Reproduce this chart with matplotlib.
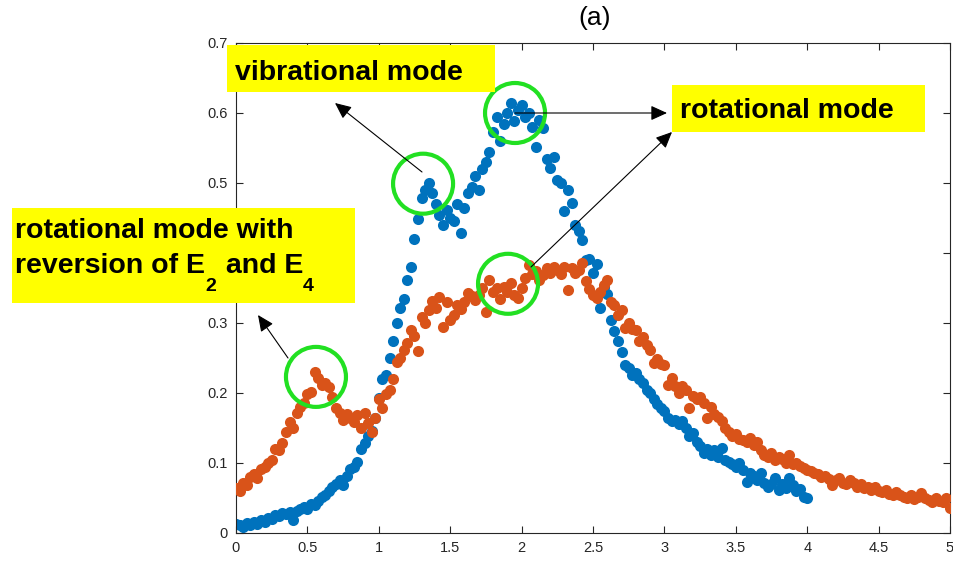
import numpy as np
import matplotlib.pyplot as plt
from matplotlib.patches import Ellipse, Rectangle, FancyArrowPatch

plt.rcParams['font.family'] = 'Liberation Sans'

# echantillonnage en x (pas constant)
step = 0.025

# serie bleue : 0 -> 4
blue_y = [
    0.013, 0.012, 0.009, 0.014, 0.012, 0.016, 0.013, 0.018, 0.016, 0.022,
    0.020, 0.026, 0.024, 0.029, 0.027, 0.030, 0.018, 0.031, 0.035, 0.037,
    0.034, 0.042, 0.040, 0.046, 0.052, 0.055, 0.060, 0.066, 0.070, 0.076,
    0.068, 0.082, 0.092, 0.095, 0.101, 0.120, 0.128, 0.138, 0.146, 0.165,
    0.193, 0.220, 0.226, 0.250, 0.275, 0.300, 0.322, 0.334, 0.362, 0.380,
    0.420, 0.448, 0.478, 0.490, 0.500, 0.486, 0.470, 0.455, 0.440, 0.462,
    0.450, 0.446, 0.470, 0.428, 0.465, 0.486, 0.495, 0.510, 0.490, 0.520,
    0.530, 0.545, 0.573, 0.595, 0.560, 0.585, 0.600, 0.614, 0.588, 0.605,
    0.612, 0.595, 0.600, 0.580, 0.552, 0.590, 0.578, 0.535, 0.522, 0.537,
    0.505, 0.500, 0.460, 0.490, 0.472, 0.440, 0.432, 0.418, 0.390, 0.392,
    0.372, 0.385, 0.322, 0.352, 0.342, 0.304, 0.288, 0.274, 0.258, 0.240,
    0.236, 0.226, 0.228, 0.220, 0.214, 0.204, 0.200, 0.192, 0.184, 0.178,
    0.175, 0.165, 0.160, 0.162, 0.156, 0.160, 0.150, 0.138, 0.143, 0.130,
    0.125, 0.115, 0.120, 0.112, 0.118, 0.108, 0.121, 0.104, 0.102, 0.098,
    0.094, 0.100, 0.090, 0.073, 0.086, 0.082, 0.076, 0.086, 0.072, 0.066,
    0.070, 0.078, 0.062, 0.070, 0.064, 0.079, 0.068, 0.060, 0.063, 0.052,
    0.050,
]

# serie orange : 0 -> 5
orange_y = [
    0.065, 0.060, 0.071, 0.068, 0.080, 0.085, 0.078, 0.092, 0.095, 0.100,
    0.104, 0.120, 0.118, 0.128, 0.145, 0.158, 0.150, 0.172, 0.180, 0.186,
    0.198, 0.202, 0.230, 0.222, 0.212, 0.215, 0.208, 0.195, 0.178, 0.172,
    0.162, 0.170, 0.164, 0.158, 0.168, 0.150, 0.172, 0.157, 0.145, 0.165,
    0.192, 0.178, 0.198, 0.205, 0.220, 0.244, 0.250, 0.262, 0.272, 0.290,
    0.282, 0.260, 0.308, 0.300, 0.318, 0.332, 0.322, 0.337, 0.294, 0.330,
    0.305, 0.312, 0.326, 0.320, 0.330, 0.343, 0.338, 0.333, 0.340, 0.350,
    0.316, 0.362, 0.345, 0.350, 0.335, 0.352, 0.345, 0.357, 0.340, 0.336,
    0.350, 0.365, 0.383, 0.370, 0.375, 0.362, 0.368, 0.378, 0.372, 0.380,
    0.376, 0.370, 0.380, 0.347, 0.378, 0.372, 0.376, 0.386, 0.360, 0.348,
    0.340, 0.336, 0.345, 0.354, 0.362, 0.330, 0.326, 0.312, 0.318, 0.293,
    0.300, 0.292, 0.290, 0.275, 0.280, 0.268, 0.262, 0.243, 0.248, 0.242,
    0.240, 0.212, 0.222, 0.210, 0.200, 0.210, 0.205, 0.178, 0.196, 0.192,
    0.195, 0.186, 0.165, 0.180, 0.170, 0.166, 0.160, 0.150, 0.145, 0.138,
    0.142, 0.135, 0.133, 0.130, 0.136, 0.126, 0.130, 0.118, 0.112, 0.108,
    0.114, 0.104, 0.108, 0.106, 0.100, 0.111, 0.098, 0.100, 0.096, 0.093,
    0.090, 0.088, 0.086, 0.084, 0.080, 0.082, 0.077, 0.068, 0.076, 0.078,
    0.072, 0.070, 0.076, 0.072, 0.066, 0.070, 0.064, 0.066, 0.062, 0.066,
    0.060, 0.058, 0.062, 0.056, 0.054, 0.058, 0.055, 0.052, 0.050, 0.054,
    0.048, 0.052, 0.057, 0.050, 0.047, 0.044, 0.050, 0.046, 0.045, 0.050,
    0.036,
]

x_blue = np.arange(len(blue_y)) * step
x_orange = np.arange(len(orange_y)) * step

xticks = [0, 0.5, 1, 1.5, 2, 2.5, 3, 3.5, 4, 4.5, 5]
xtick_labels = ['0', '0.5', '1', '1.5', '2', '2.5', '3', '3.5', '4', '4.5', '5']
yticks = [0, 0.1, 0.2, 0.3, 0.4, 0.5, 0.6, 0.7]
# le label 0.4 est masque par l'encadre de gauche
ytick_labels = ['0', '0.1', '0.2', '0.3', '', '0.5', '0.6', '0.7']

W, H = 954, 561


def fpos(px, py):
    # pixels -> fraction de figure
    return px / W, 1 - py / H


fig = plt.figure(figsize=(W / 100, H / 100), dpi=100)
ax = fig.add_axes([236 / W, 1 - 533 / H, (950 - 236) / W, (533 - 43) / H])

ax.scatter(x_blue, blue_y, s=64, color='#0072BD', linewidths=0, zorder=2)
ax.scatter(x_orange, orange_y, s=64, color='#D95319', linewidths=0, zorder=3)

ax.set_xlim(0, 5)
ax.set_ylim(0, 0.7)
ax.set_xticks(xticks)
ax.set_xticklabels(xtick_labels)
ax.set_yticks(yticks)
ax.set_yticklabels(ytick_labels)
ax.tick_params(direction='in', length=5, width=0.8, colors='#262626',
               labelsize=10.5, top=True, right=True, pad=6)
for sp in ax.spines.values():
    sp.set_color('#262626')
    sp.set_linewidth(0.8)

# cercles verts autour des zones d'interet
cw, ch = 60 / 142.8, 60 / 700
for cx, cy in [(1.31, 0.499), (1.954, 0.600), (1.905, 0.356), (0.56, 0.223)]:
    ax.add_patch(Ellipse((cx, cy), cw, ch, fill=False, edgecolor='#22e022',
                         linewidth=3, zorder=5))

fig.text(*fpos(595, 25), '(a)', ha='center', va='baseline', fontsize=19)

# encadres jaunes
boxes = [(227, 45, 495, 92), (672, 85, 925, 132), (12, 208, 355, 303)]
for x0, y0, x1, y1 in boxes:
    fig.add_artist(Rectangle(fpos(x0, y1), (x1 - x0) / W, (y1 - y0) / H,
                             transform=fig.transFigure, facecolor='#ffff00',
                             edgecolor='none', zorder=10))

lbl = dict(fontsize=20.5, fontweight='bold', va='baseline', ha='left', zorder=11)
fig.text(*fpos(235, 80), 'vibrational mode', **lbl)
fig.text(*fpos(680, 118), 'rotational mode', **lbl)
fig.text(*fpos(15, 238), 'rotational mode with', **lbl)

# deuxieme ligne avec indices places sous la ligne de base
renderer = fig.canvas.get_renderer()
pieces = [('reversion of E', 20.5, 0), ('2', 14, 18), (' and E', 20.5, 0), ('4', 14, 18)]
xcur = 15
for txt, size, drop in pieces:
    t = fig.text(*fpos(xcur, 273 + drop), txt, fontsize=size, fontweight='bold',
                 va='baseline', ha='left', zorder=11)
    xcur += t.get_window_extent(renderer).width + (2 if drop else 0)

# fleches
arrows = [((422, 172), (335, 103)),
          ((515, 113), (667, 113)),
          ((531, 267), (672, 132)),
          ((288, 358), (258, 315))]
for a, b in arrows:
    fig.add_artist(FancyArrowPatch(fpos(*a), fpos(*b), transform=fig.transFigure,
                                   arrowstyle='-|>,head_length=0.55,head_width=0.25',
                                   mutation_scale=18, color='black', linewidth=0.8,
                                   shrinkA=0, shrinkB=0, zorder=12))

fig.savefig('out.png', dpi=100)
